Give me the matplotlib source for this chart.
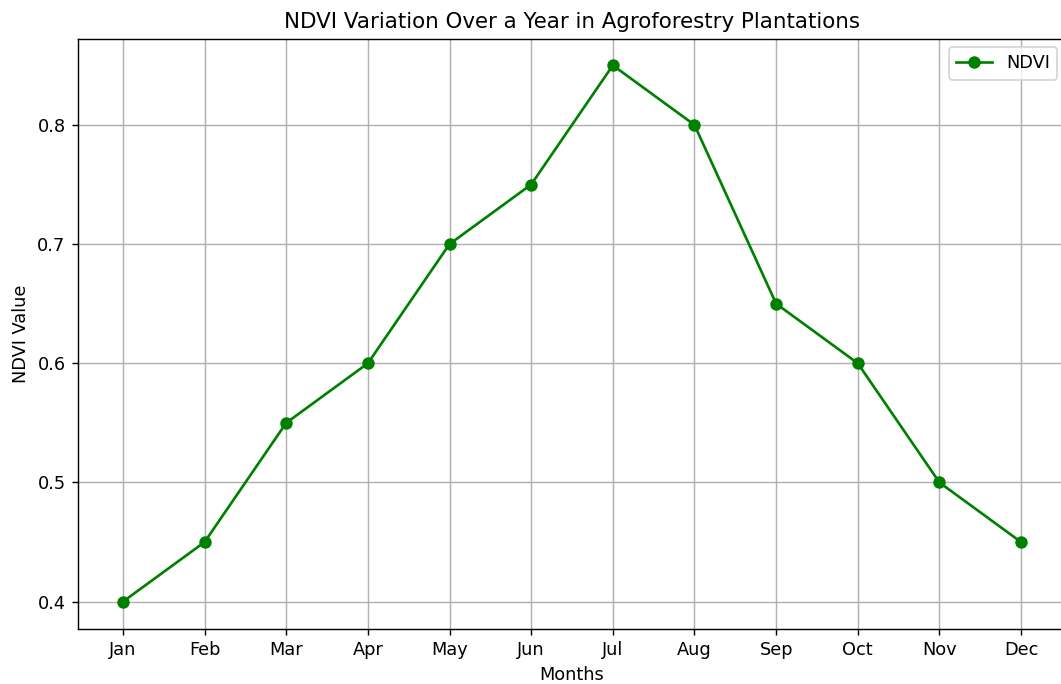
import matplotlib.pyplot as plt

months = ['Jan', 'Feb', 'Mar', 'Apr', 'May', 'Jun', 'Jul', 'Aug', 'Sep', 'Oct', 'Nov', 'Dec']
ndvi_values = [0.40, 0.45, 0.55, 0.60, 0.70, 0.75, 0.85, 0.80, 0.65, 0.60, 0.50, 0.45]

# original looks like a 128 dpi render cropped on the right
dpi = 128
fig = plt.figure(figsize=(1061 / dpi, 684 / dpi), dpi=dpi)
ax = fig.add_axes([78 / 1061, 55.5 / 684, 988 / 1061, 590 / 684])

ax.plot(months, ndvi_values, marker='o', color='green', label='NDVI')

ax.set_title('NDVI Variation Over a Year in Agroforestry Plantations')
ax.set_xlabel('Months')
ax.set_ylabel('NDVI Value')
ax.grid(True)
ax.legend()

plt.savefig('out.png', dpi=dpi)
plt.close()
